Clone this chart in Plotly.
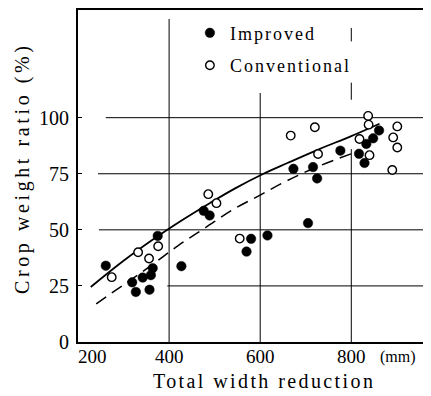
import plotly.graph_objects as go

# ---- data ----
improved_x = [261, 319, 327, 342, 357, 360, 364, 375, 427, 476, 489, 570, 580, 616,
              673, 705, 716, 725, 776, 817, 829, 833, 848, 861]
improved_y = [34, 26.6, 22.3, 28.7, 23.3, 29.8, 32.9, 47.3, 33.8, 58.5, 56.4, 40.3, 46, 47.5,
              77.2, 53, 78, 72.9, 85.3, 83.9, 79.8, 88.3, 90.8, 94.3]

conventional_x = [274, 332, 356, 376, 486, 504, 555, 667, 720, 727, 818, 837, 838, 840,
                  890, 892, 901, 901]
conventional_y = [28.9, 40, 37.2, 42.7, 65.9, 61.9, 46.1, 92, 95.7, 83.8, 90.5, 100.8, 96.9,
                  83.3, 76.7, 91.2, 96.1, 86.7]

solid_x = [228, 300, 374, 430, 490, 545, 605, 660, 730, 800, 862]
solid_y = [24.5, 36.2, 47, 54.5, 62, 68.5, 74.8, 79.8, 86, 91.8, 97.3]

dashed_x = [240, 300, 360, 420, 480, 540, 600, 660, 730, 808]
dashed_y = [17, 25.5, 34, 43, 51, 59, 65.5, 72, 78.5, 84.5]

x_ticks = [200, 400, 600, 800]
x_ticktext = ["200", "400", "600", "800"]
y_ticks = [0, 25, 50, 75, 100]
y_ticktext = ["0", "25", "50", "75", "100"]

FONT = "Liberation Serif"

fig = go.Figure()

fig.add_trace(go.Scatter(x=solid_x, y=solid_y, mode="lines", line_shape="spline",
                         line=dict(color="black", width=1.8), showlegend=False,
                         hoverinfo="skip"))
fig.add_trace(go.Scatter(x=dashed_x, y=dashed_y, mode="lines", line_shape="spline",
                         line=dict(color="black", width=1.5, dash="12px,7px"),
                         showlegend=False, hoverinfo="skip"))

fig.add_trace(go.Scatter(x=improved_x, y=improved_y, mode="markers",
                         name='<span style="letter-spacing:2px">Improved</span>',
                         legendgroup="a",
                         marker=dict(symbol="circle", size=9.5, color="black",
                                     line=dict(color="black", width=0.5))))
fig.add_trace(go.Scatter(x=conventional_x, y=conventional_y, mode="markers",
                         name='<span style="letter-spacing:2px">Conventional</span>',
                         legendgroup="b",
                         marker=dict(symbol="circle", size=8.5, color="white",
                                     line=dict(color="black", width=1.4))))

# partial grid lines as in the original print
hlines = [(261, 960, 100), (244, 960, 75), (246, 960, 50), (396, 960, 25)]
for x0, x1, yv in hlines:
    fig.add_shape(type="line", xref="x", yref="y", x0=x0, x1=x1, y0=yv, y1=yv,
                  line=dict(color="black", width=1), layer="below")
vlines = [(400, 0, 144), (600, 0, 111), (800, 0, 86), (800, 108, 115.6), (800, 134, 140)]
for xv, y0, y1 in vlines:
    fig.add_shape(type="line", xref="x", yref="y", x0=xv, x1=xv, y0=y0, y1=y1,
                  line=dict(color="black", width=1), layer="below")

# x tick labels: the first one sits right of its tick in the original print
for i, (tv, tt) in enumerate(zip(x_ticks, x_ticktext)):
    fig.add_annotation(text=tt, xref="x", yref="paper", x=tv, y=-0.045,
                       xanchor="left" if i == 0 else "center", yanchor="middle",
                       xshift=-2 if i == 0 else 0, showarrow=False,
                       font=dict(family=FONT, size=19, color="black"))

fig.add_annotation(text="(mm)", xref="x", yref="paper", x=902, y=-0.045,
                   showarrow=False, xanchor="center", yanchor="middle",
                   font=dict(family=FONT, size=16, color="black"))

# axis titles
fig.add_annotation(text='<span style="letter-spacing:2.4px">Total width reduction</span>',
                   xref="paper", yref="paper", x=0.527, y=-0.1175,
                   xanchor="center", yanchor="middle", showarrow=False,
                   font=dict(family=FONT, size=20, color="black"))
fig.add_annotation(text='<span style="letter-spacing:3.6px">Crop weight ratio (%)</span>',
                   xref="paper", yref="paper", x=-0.1586, y=0.524, textangle=-90,
                   xanchor="center", yanchor="middle", showarrow=False,
                   font=dict(family=FONT, size=20, color="black"))

# the page body adds an 8 px offset, so margins are reduced by 8 px on the left/top
fig.update_layout(
    width=431, height=396,
    margin=dict(l=70, r=8, t=2, b=62, autoexpand=False),
    paper_bgcolor="white", plot_bgcolor="white",
    font=dict(family=FONT, color="black", size=19),
    legend=dict(x=0.317, y=0.986, xanchor="left", yanchor="top",
                bgcolor="rgba(0,0,0,0)", font=dict(family=FONT, size=18),
                tracegroupgap=6, itemwidth=30),
    xaxis=dict(range=[200, 975], tickvals=x_ticks, showticklabels=False,
               showgrid=False, zeroline=False, showline=True, mirror=True,
               linecolor="black", linewidth=2.4, ticks="", automargin=False),
    yaxis=dict(range=[0, 148], tickvals=y_ticks, ticktext=y_ticktext,
               showgrid=False, zeroline=False, showline=True, mirror=False,
               linecolor="black", linewidth=2, ticks="inside", ticklen=4,
               tickcolor="black", automargin=False, ticklabelstandoff=3,
               tickfont=dict(family=FONT, size=20)),
)

fig.write_html("out.html")
